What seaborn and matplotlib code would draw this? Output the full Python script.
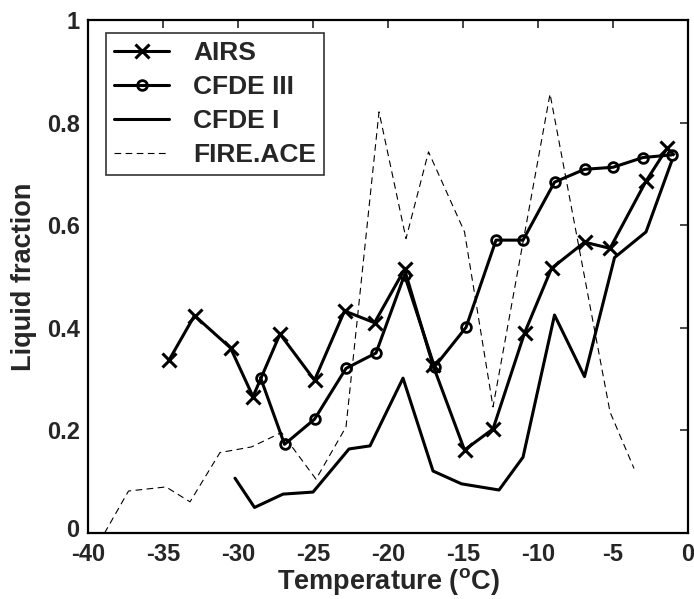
import matplotlib
matplotlib.use("Agg")
import matplotlib.pyplot as plt
import matplotlib.transforms as mtrans
import seaborn as sns
import pandas as pd

airs_x = [-34.6, -32.9, -30.5, -29.0, -27.2, -24.9, -22.9, -20.9, -18.9, -17.0, -14.9, -13.0, -10.9, -9.1, -6.9, -5.2, -2.8, -1.4]
airs_y = [0.337, 0.424, 0.361, 0.266, 0.388, 0.298, 0.433, 0.410, 0.514, 0.327, 0.162, 0.203, 0.390, 0.516, 0.567, 0.555, 0.686, 0.750]

cfde3_x = [-28.5, -26.9, -24.9, -22.8, -20.8, -18.9, -16.9, -14.8, -12.8, -11.0, -8.9, -6.9, -5.0, -3.0, -1.1]
cfde3_y = [0.303, 0.173, 0.222, 0.321, 0.351, 0.503, 0.324, 0.401, 0.571, 0.571, 0.684, 0.709, 0.713, 0.732, 0.737]

cfde1_x = [-30.2, -28.9, -27.0, -25.0, -22.6, -21.2, -19.0, -17.0, -15.1, -12.6, -11.0, -8.9, -6.9, -4.9, -2.8, -1.1]
cfde1_y = [0.107, 0.050, 0.076, 0.080, 0.164, 0.170, 0.302, 0.121, 0.096, 0.084, 0.148, 0.425, 0.305, 0.537, 0.587, 0.724]

fire_x = [-38.9, -37.3, -34.8, -33.2, -31.2, -29.1, -27.1, -24.8, -22.8, -20.6, -18.8, -17.3, -14.9, -13.0, -9.2, -5.2, -3.6]
fire_y = [0.0, 0.082, 0.090, 0.061, 0.157, 0.168, 0.196, 0.105, 0.207, 0.821, 0.574, 0.743, 0.587, 0.246, 0.856, 0.236, 0.126]

x_ticks = [-40, -35, -30, -25, -20, -15, -10, -5, 0]
y_ticks = [0, 0.2, 0.4, 0.6, 0.8, 1]
y_tick_labels = ["0", "0.2", "0.4", "0.6", "0.8", "1"]

sns.set_style("white")
plt.rcParams['font.family'] = ['Liberation Sans', 'DejaVu Sans']
plt.rcParams['font.weight'] = 'bold'
plt.rcParams['mathtext.fontset'] = 'custom'
plt.rcParams['mathtext.bf'] = 'Liberation Sans:bold'
plt.rcParams['mathtext.rm'] = 'Liberation Sans:bold'
plt.rcParams['mathtext.default'] = 'bf'

fig = plt.figure(figsize=(6.94, 5.99), dpi=100)
ax = fig.add_axes([0.1268, 0.110, 0.8646, 0.8566])

lw = 2.2
sns.lineplot(x=airs_x, y=airs_y, ax=ax, color='black', lw=lw, marker='x',
             markersize=10, markeredgewidth=2.2, markeredgecolor='black',
             label='AIRS', sort=False)
sns.lineplot(x=cfde3_x, y=cfde3_y, ax=ax, color='black', lw=lw, marker='o',
             markersize=7, markerfacecolor='none', markeredgecolor='black',
             markeredgewidth=2.0, label='CFDE III', sort=False)
sns.lineplot(x=cfde1_x, y=cfde1_y, ax=ax, color='black', lw=lw,
             label='CFDE I', sort=False)
sns.lineplot(x=fire_x, y=fire_y, ax=ax, color='black', lw=0.8,
             linestyle=(0, (6, 4)), label='FIRE.ACE', sort=False)

ax.set_xlim(-40, 0)
ax.set_ylim(0, 1)
ax.set_xticks(x_ticks)
ax.set_xticklabels([str(t) for t in x_ticks])
ax.set_yticks(y_ticks)
ax.set_yticklabels(y_tick_labels)
ax.tick_params(direction='in', length=6, width=1.2, top=True, right=True,
               labelsize=17)
ax.tick_params(axis='x', pad=7)
ax.tick_params(axis='y', pad=6)
for lab in ax.get_xticklabels() + ax.get_yticklabels():
    lab.set_fontweight('bold')
for s in ax.spines.values():
    s.set_linewidth(1.6)
    s.set_color('black')

# nudge the "0" y tick label slightly upward as in the reference
zero_lab = ax.yaxis.get_major_ticks()[0].label1
zero_lab.set_transform(zero_lab.get_transform() +
                       mtrans.ScaledTranslation(0, 4 / 72, fig.dpi_scale_trans))

ax.set_xlabel(r'Temperature ($^{o}$C)', fontsize=19.5, fontweight='bold', labelpad=0)
ax.set_ylabel('Liquid fraction', fontsize=19.5, fontweight='bold', labelpad=7)

leg = ax.legend(loc='upper left', bbox_to_anchor=(0.030, 0.975), fontsize=19,
                frameon=True, fancybox=False, handlelength=2.1, handletextpad=0.9,
                borderpad=0.3, labelspacing=0.38, borderaxespad=0)
leg.get_frame().set_edgecolor('black')
leg.get_frame().set_linewidth(1.2)
for t in leg.get_texts():
    t.set_fontweight('bold')

fig.savefig('out.png', dpi=100)
